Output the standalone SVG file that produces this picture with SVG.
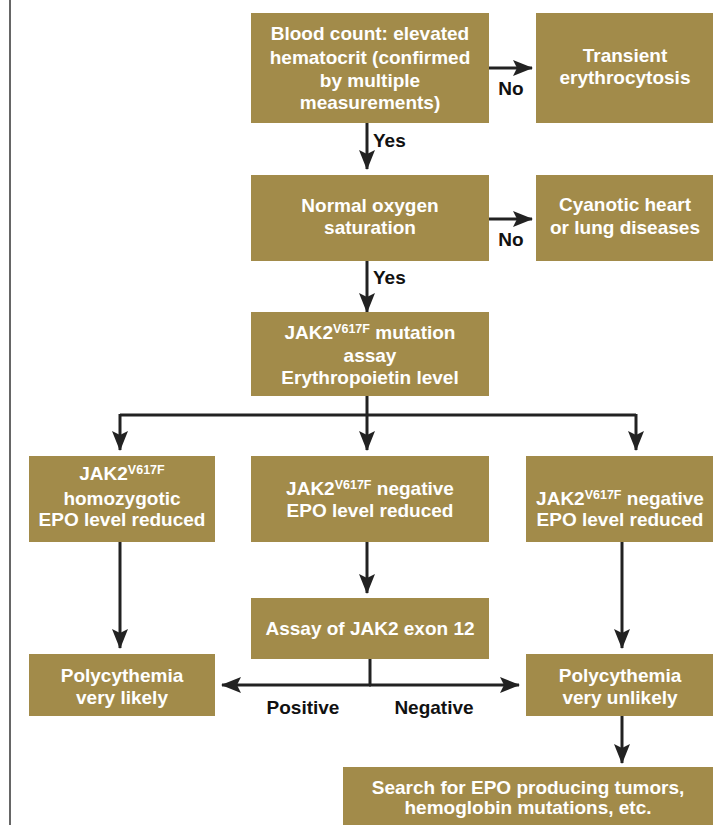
<svg xmlns="http://www.w3.org/2000/svg" width="713" height="825" viewBox="0 0 713 825">
<style>
.box{fill:#a28b4a;}
.t{font-family:"Liberation Sans Narrow","Liberation Sans",Arial,sans-serif;font-weight:bold;font-size:19px;fill:#ffffff;text-anchor:middle;}
.sup{font-size:12.5px;}
.lbl{font-family:"Liberation Sans Narrow","Liberation Sans",Arial,sans-serif;font-weight:bold;font-size:19px;fill:#111111;}
.c{fill:none;stroke:#222222;stroke-width:3;}
</style>
<defs>
<marker id="ah" markerUnits="userSpaceOnUse" markerWidth="22" markerHeight="17" refX="19" refY="8" orient="auto">
<path d="M0,0 L20,8 L0,16 L4,8 Z" fill="#222222"/>
</marker>
</defs>
<rect width="713" height="825" fill="#ffffff"/>
<line x1="10" y1="0" x2="10" y2="825" stroke="#333333" stroke-width="1.5"/>

<g id="connectors">
<path class="c" d="M489,68 H532" marker-end="url(#ah)"/>
<path class="c" d="M367,123 V169" marker-end="url(#ah)"/>
<path class="c" d="M489,219 H532" marker-end="url(#ah)"/>
<path class="c" d="M367,261 V312" marker-end="url(#ah)"/>
<path class="c" d="M367,396 V415"/>
<path class="c" d="M120,415 H636"/>
<path class="c" d="M120,414 V450" marker-end="url(#ah)"/>
<path class="c" d="M367,414 V450" marker-end="url(#ah)"/>
<path class="c" d="M636,414 V450" marker-end="url(#ah)"/>
<path class="c" d="M120,542 V648" marker-end="url(#ah)"/>
<path class="c" d="M367,542 V593" marker-end="url(#ah)"/>
<path class="c" d="M622,542 V648" marker-end="url(#ah)"/>
<path class="c" d="M370,659 V685"/>
<path class="c" d="M371,685 H222" marker-end="url(#ah)"/>
<path class="c" d="M369,685 H519" marker-end="url(#ah)"/>
<path class="c" d="M622,716 V763" marker-end="url(#ah)"/>
<text class="lbl" x="511" y="95" text-anchor="middle">No</text>
<text class="lbl" x="373" y="147">Yes</text>
<text class="lbl" x="511" y="246" text-anchor="middle">No</text>
<text class="lbl" x="373" y="284">Yes</text>
<text class="lbl" x="303" y="714" text-anchor="middle">Positive</text>
<text class="lbl" x="434" y="714" text-anchor="middle">Negative</text>
</g>

<g id="n1">
<rect class="box" x="251" y="13" width="238" height="110"/>
<text class="t" x="370" y="40">Blood count: elevated</text>
<text class="t" x="370" y="64">hematocrit (confirmed</text>
<text class="t" x="370" y="87">by multiple</text>
<text class="t" x="370" y="109">measurements)</text>
</g>
<g id="n2">
<rect class="box" x="536" y="13" width="177" height="110"/>
<text class="t" x="625" y="62">Transient</text>
<text class="t" x="625" y="84">erythrocytosis</text>
</g>
<g id="n3">
<rect class="box" x="251" y="175" width="238" height="86"/>
<text class="t" x="370" y="212">Normal oxygen</text>
<text class="t" x="370" y="234">saturation</text>
</g>
<g id="n4">
<rect class="box" x="536" y="175" width="177" height="86"/>
<text class="t" x="625" y="211">Cyanotic heart</text>
<text class="t" x="625" y="234">or lung diseases</text>
</g>
<g id="n5">
<rect class="box" x="251" y="312" width="238" height="84"/>
<text class="t" x="370" y="339">JAK2<tspan class="sup" dy="-6">V617F</tspan><tspan dy="6"> mutation</tspan></text>
<text class="t" x="370" y="362">assay</text>
<text class="t" x="370" y="384">Erythropoietin level</text>
</g>
<g id="n6">
<rect class="box" x="29" y="456" width="186" height="86"/>
<text class="t" x="122" y="480">JAK2<tspan class="sup" dy="-6">V617F</tspan></text>
<text class="t" x="122" y="505">homozygotic</text>
<text class="t" x="122" y="526">EPO level reduced</text>
</g>
<g id="n7">
<rect class="box" x="251" y="456" width="238" height="86"/>
<text class="t" x="370" y="495">JAK2<tspan class="sup" dy="-6">V617F</tspan><tspan dy="6"> negative</tspan></text>
<text class="t" x="370" y="517">EPO level reduced</text>
</g>
<g id="n8">
<rect class="box" x="526" y="456" width="187" height="86"/>
<text class="t" x="620" y="505">JAK2<tspan class="sup" dy="-6">V617F</tspan><tspan dy="6"> negative</tspan></text>
<text class="t" x="620" y="526">EPO level reduced</text>
</g>
<g id="n9">
<rect class="box" x="251" y="598" width="238" height="61"/>
<text class="t" x="370" y="635">Assay of JAK2 exon 12</text>
</g>
<g id="n10">
<rect class="box" x="29" y="654" width="186" height="62"/>
<text class="t" x="122" y="682">Polycythemia</text>
<text class="t" x="122" y="704">very likely</text>
</g>
<g id="n11">
<rect class="box" x="526" y="654" width="187" height="62"/>
<text class="t" x="620" y="682">Polycythemia</text>
<text class="t" x="620" y="704">very unlikely</text>
</g>
<g id="n12">
<rect class="box" x="343" y="767" width="370" height="58"/>
<text class="t" x="528" y="794">Search for EPO producing tumors,</text>
<text class="t" x="528" y="814">hemoglobin mutations, etc.</text>
</g>
</svg>
